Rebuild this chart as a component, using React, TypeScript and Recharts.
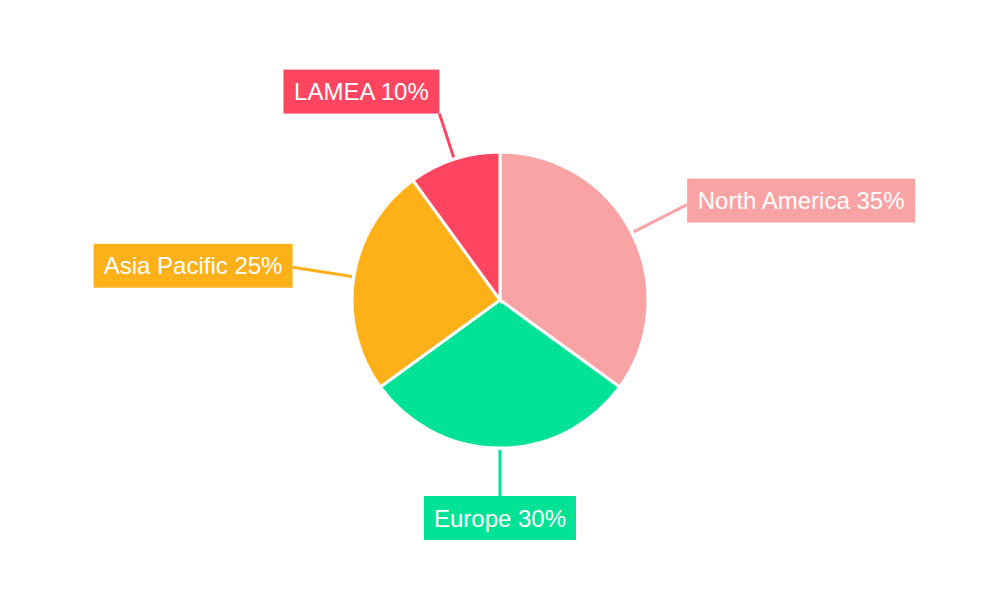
import { Cell, Pie, PieChart } from 'recharts'

const regions = ['North America', 'Europe', 'Asia Pacific', 'LAMEA']
const shares = [35, 30, 25, 10]
const colors = ['#F9A3A4', '#00E396', '#FEB019', '#FF4560']

const data = regions.map((name, i) => ({ name, value: shares[i] }))

const RAD = Math.PI / 180
const FONT = "24px 'Liberation Sans', Arial, sans-serif"

let ctx: CanvasRenderingContext2D | null = null
const textWidth = (s: string) => {
   if (!ctx) ctx = document.createElement('canvas').getContext('2d')
   if (!ctx) return s.length * 12
   ctx.font = FONT
   return ctx.measureText(s).width
}

const renderLabel = (props: any) => {
   const { cx, cy, midAngle, outerRadius, name, value, index } = props
   const color = colors[index]
   const cos = Math.cos(midAngle * RAD)
   const sin = Math.sin(midAngle * RAD)
   const r1 = outerRadius + 2
   const r2 = Math.abs(sin) > 0.8 ? outerRadius + 48 : outerRadius + 62
   const x1 = cx + r1 * cos
   const y1 = cy - r1 * sin
   const x2 = cx + r2 * cos
   const y2 = cy - r2 * sin

   const text = `${name} ${value}%`
   const w = Math.round(textWidth(text)) + 20
   const h = 44

   let bx = x2 - w / 2
   if (cos > 0.2) bx = x2
   else if (cos < -0.2) bx = x2 - w
   let by = y2 - h / 2 - 9 * sin
   if (sin > 0.8) by = y2 - h
   else if (sin < -0.8) by = y2

   return (
      <g>
         <line x1={x1} y1={y1} x2={x2} y2={y2} stroke={color} strokeWidth={3} />
         <rect x={bx} y={by} width={w} height={h} fill={color} />
         <text
            x={bx + w / 2}
            y={by + h / 2 + 8.5}
            textAnchor="middle"
            fill="#ffffff"
            style={{ font: FONT }}
         >
            {text}
         </text>
      </g>
   )
}

export default function App() {
   return (
      <div style={{ position: 'absolute', left: 0, top: 0, width: 1000, height: 600, background: '#fff' }}>
         <PieChart width={1000} height={600} margin={{ top: 0, right: 0, bottom: 0, left: 0 }}>
            <Pie
               data={data}
               dataKey="value"
               nameKey="name"
               cx={500}
               cy={300}
               outerRadius={148}
               startAngle={90}
               endAngle={-270}
               stroke="#ffffff"
               strokeWidth={3}
               label={renderLabel}
               labelLine={false}
               isAnimationActive={false}
            >
               {data.map((d, i) => (
                  <Cell key={d.name} fill={colors[i]} />
               ))}
            </Pie>
         </PieChart>
      </div>
   )
}
